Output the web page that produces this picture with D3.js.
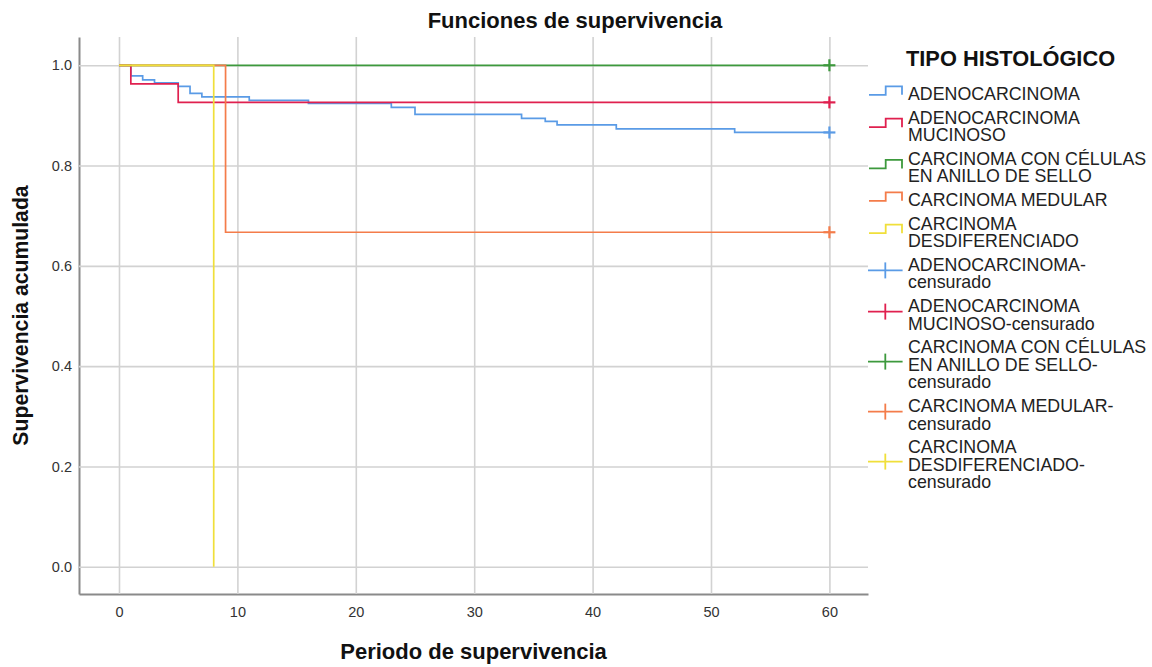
<!DOCTYPE html>
<html>
<head>
<meta charset="utf-8">
<script src="https://cdn.jsdelivr.net/npm/d3@7"></script>
<style>
  body { margin: 0; background: #fff; }
  svg { font-family: "Liberation Sans", Arial, sans-serif; }
</style>
</head>
<body>
<div id="chart"></div>
<script>
// survival steps
const adenoTimes = [0, 1, 2, 3, 5, 6, 7, 11, 16, 23, 25, 34, 36, 37, 42, 52, 60];
const adenoSurv = [1, 0.979, 0.971, 0.965, 0.958, 0.944, 0.937, 0.930, 0.924, 0.916, 0.902, 0.894, 0.888, 0.881, 0.873, 0.866, 0.866];
const mucTimes = [0, 1, 5, 60];
const mucSurv = [1, 0.963, 0.926, 0.926];
const selloTimes = [0, 60];
const selloSurv = [1, 1];
const medTimes = [0, 9, 60];
const medSurv = [1, 0.667, 0.667];
const desdTimes = [0, 8];
const desdSurv = [1, 0];

const censorTimes = [[60], [60], [60], [60], []];

const xTicks = [0, 10, 20, 30, 40, 50, 60];
const yTicks = [0, 0.2, 0.4, 0.6, 0.8, 1.0];

const legendLabels = [
  ["ADENOCARCINOMA"],
  ["ADENOCARCINOMA", "MUCINOSO"],
  ["CARCINOMA CON CÉLULAS", "EN ANILLO DE SELLO"],
  ["CARCINOMA MEDULAR"],
  ["CARCINOMA", "DESDIFERENCIADO"],
  ["ADENOCARCINOMA-", "censurado"],
  ["ADENOCARCINOMA", "MUCINOSO-censurado"],
  ["CARCINOMA CON CÉLULAS", "EN ANILLO DE SELLO-", "censurado"],
  ["CARCINOMA MEDULAR-", "censurado"],
  ["CARCINOMA", "DESDIFERENCIADO-", "censurado"]
];

const colors = ["#5a9be6", "#e0204f", "#3d993d", "#f47c4a", "#f0df3a"];

const series = [
  [adenoTimes, adenoSurv],
  [mucTimes, mucSurv],
  [selloTimes, selloSurv],
  [medTimes, medSurv],
  [desdTimes, desdSurv]
].map(([t, s], i) => ({
  points: t.map((v, j) => [v, s[j]]),
  censor: censorTimes[i].map(c => [c, s[t.indexOf(c)]]),
  color: colors[i]
}));

const width = 1152, height = 667;
const plotLeft = 79, plotRight = 868, plotTop = 37, plotBottom = 594;

const x = d3.scaleLinear().domain([-3.378, 63.26]).range([plotLeft, plotRight]);
const y = d3.scaleLinear().domain([-0.0544, 1.0564]).range([plotBottom, plotTop]);

const svg = d3.select('#chart')
  .append('svg')
  .attr('width', width)
  .attr('height', height);

// grid + axes
const gx = svg.append('g')
  .attr('transform', `translate(0,${plotBottom})`)
  .call(d3.axisBottom(x).tickValues(xTicks).tickFormat(d3.format('d'))
    .tickSize(-(plotBottom - plotTop)).tickSizeOuter(0).tickPadding(13));
const gy = svg.append('g')
  .attr('transform', `translate(${plotLeft},0)`)
  .call(d3.axisLeft(y).tickValues(yTicks).tickFormat(d3.format('.1f'))
    .tickSize(-(plotRight - plotLeft)).tickSizeOuter(0).tickPadding(7));

[gx, gy].forEach(g => {
  g.selectAll('.tick line').attr('stroke', '#d2d2d2').attr('stroke-width', 1.6);
  g.selectAll('.tick text').attr('fill', '#333').style('font-size', '14.5px')
    .style('font-family', '"Liberation Sans", Arial, sans-serif');
  g.select('.domain').attr('stroke', '#8a8a8a').attr('stroke-width', 2);
});

// curves
const line = d3.line()
  .x(d => x(d[0]))
  .y(d => y(d[1]))
  .curve(d3.curveStepAfter);

const curves = svg.append('g');
series.forEach(s => {
  curves.append('path')
    .datum(s.points)
    .attr('fill', 'none')
    .attr('stroke', s.color)
    .attr('stroke-width', 1.7)
    .attr('d', line);
});

const cross = (g, cx, cy, hw, hh, color, w) => {
  g.append('line').attr('x1', cx - hw).attr('x2', cx + hw).attr('y1', cy).attr('y2', cy)
    .attr('stroke', color).attr('stroke-width', w);
  g.append('line').attr('x1', cx).attr('x2', cx).attr('y1', cy - hh).attr('y2', cy + hh)
    .attr('stroke', color).attr('stroke-width', w);
};

series.forEach(s => {
  s.censor.forEach(c => cross(curves, x(c[0]), y(c[1]), 6, 6, s.color, 2.2));
});

// titles
svg.append('text')
  .attr('x', 575).attr('y', 28)
  .attr('text-anchor', 'middle')
  .style('font-size', '22px').style('font-weight', 'bold').attr('fill', '#111')
  .text('Funciones de supervivencia');

svg.append('text')
  .attr('x', (plotLeft + plotRight) / 2).attr('y', 659)
  .attr('text-anchor', 'middle')
  .style('font-size', '22px').style('font-weight', 'bold').attr('fill', '#111')
  .text('Periodo de supervivencia');

svg.append('text')
  .attr('transform', `translate(28,${(plotTop + plotBottom) / 2}) rotate(-90)`)
  .attr('text-anchor', 'middle')
  .style('font-size', '21.2px').style('font-weight', 'bold').attr('fill', '#111')
  .text('Supervivencia acumulada');

// legend
const legend = svg.append('g');
legend.append('text')
  .attr('x', 906).attr('y', 66)
  .style('font-size', '21.8px').style('font-weight', 'bold').attr('fill', '#111')
  .text('TIPO HISTOLÓGICO');

const lineH = 17.6, gap = 6, firstBase = 100;
let lineIdx = 0;
legendLabels.forEach((lines, i) => {
  const base = firstBase + lineIdx * lineH + i * gap;
  const c = base - 9.2 + (lines.length - 1) * lineH / 2;
  const color = colors[i % 5];
  if (i < 5) {
    legend.append('path')
      .attr('d', `M869,${c + 4}H885.7V${c - 4.5}H902V${c + 4}`)
      .attr('fill', 'none').attr('stroke', color).attr('stroke-width', 1.8);
  } else {
    cross(legend, 885.3, c, 17.3, 8, color, 1.8);
  }
  const t = legend.append('text')
    .attr('x', 908).attr('y', base)
    .style('font-size', '17.8px').attr('fill', '#222');
  lines.forEach((ln, j) => {
    t.append('tspan').attr('x', 908).attr('y', base + j * lineH).text(ln);
  });
  lineIdx += lines.length;
});
</script>
</body>
</html>
